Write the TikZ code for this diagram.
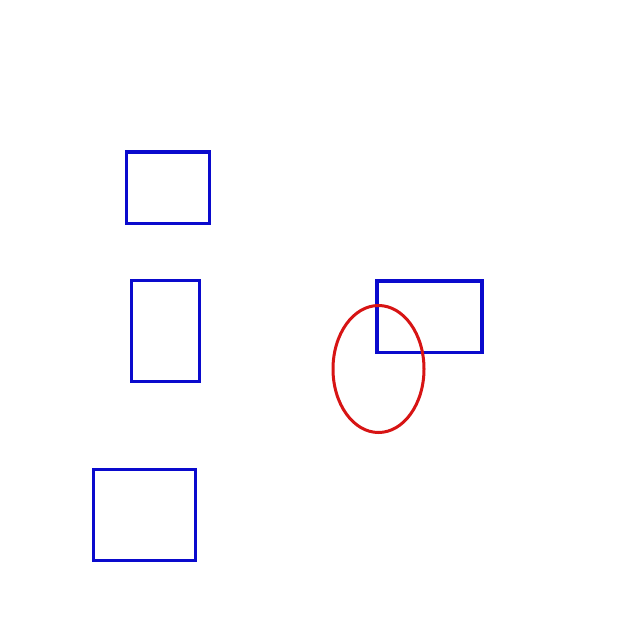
\documentclass[tikz,border=0pt]{standalone}
\begin{document}
\begin{tikzpicture}[x=1pt,y=-1pt,
  bluebox/.style={draw={rgb,255:red,10;green,10;blue,205},line width=3.2pt},
  redell/.style={draw={rgb,255:red,215;green,20;blue,20},line width=3pt}]
\useasboundingbox (0,0) rectangle (640,640);
\fill[white] (0,0) rectangle (640,640);
\draw[bluebox] (126.5,152) rectangle (209.5,223.5) coordinate (r1);
\draw[bluebox] (131.5,280.5) rectangle (199.5,381.5) coordinate (r2);
\draw[bluebox] (93.5,469.5) rectangle (195.5,560.5) coordinate (r3);
\draw[bluebox] (377,281) rectangle (482,352.5) coordinate (r4);
\draw[redell] (378.5,369) ellipse [x radius=45.5, y radius=63.5];
\end{tikzpicture}
\end{document}
